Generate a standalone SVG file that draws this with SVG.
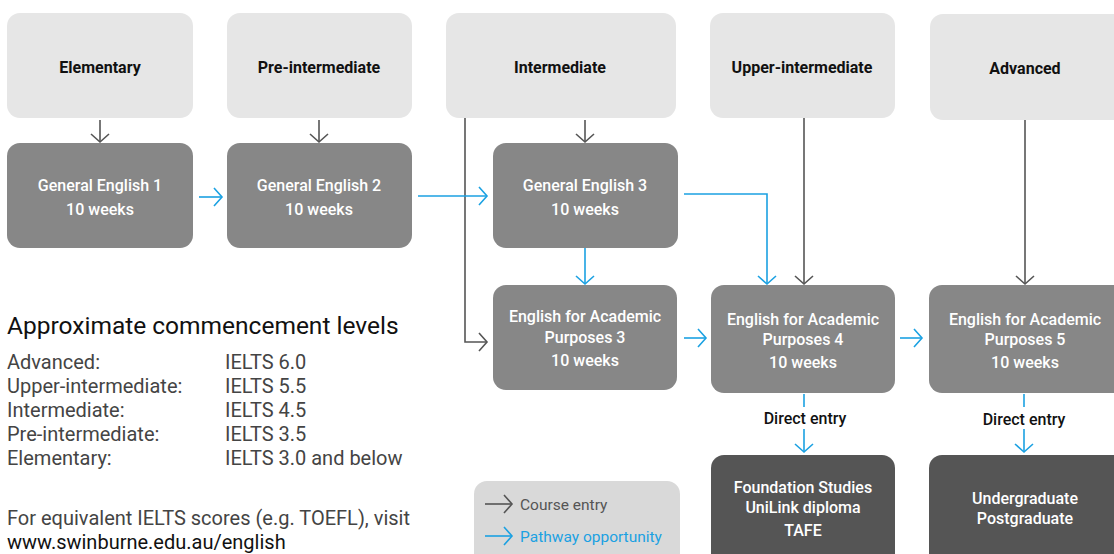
<svg xmlns="http://www.w3.org/2000/svg" width="1114" height="554" viewBox="0 0 1114 554">
<style>
.lvl{fill:#e6e6e6}
.crs{fill:#878787}
.dst{fill:#555555}
.t{font-family:"Roboto","Liberation Sans",sans-serif;font-size:16px;text-anchor:middle;font-weight:500}
.bd{font-weight:700}
.lt{fill:#111}
.wt{fill:#fff}
.g{stroke:#555;stroke-width:1.6;fill:none}
.b{stroke:#1ba1e2;stroke-width:1.6;fill:none}
.body{font-family:"Roboto","Liberation Sans",sans-serif;font-size:20px;fill:#444}
</style>
<defs>
<marker id="ag" markerUnits="userSpaceOnUse" markerWidth="20" markerHeight="20" viewBox="-10 -10 20 20" refX="0" refY="0" orient="auto"><path d="M-8,-9 L0,0 L-8,9" fill="none" stroke="#555" stroke-width="1.6"/></marker>
<marker id="ab" markerUnits="userSpaceOnUse" markerWidth="20" markerHeight="20" viewBox="-10 -10 20 20" refX="0" refY="0" orient="auto"><path d="M-8,-9 L0,0 L-8,9" fill="none" stroke="#1ba1e2" stroke-width="1.6"/></marker>
</defs>
<rect width="1114" height="554" fill="#fff"/>

<g id="elementary"><rect class="lvl" x="7" y="13" width="186" height="105" rx="13"/><text class="t bd lt" x="100" y="73">Elementary</text></g>
<g id="preintermediate"><rect class="lvl" x="227" y="13" width="185" height="105" rx="13"/><text class="t bd lt" x="319" y="73">Pre-intermediate</text></g>
<g id="intermediate"><rect class="lvl" x="446" y="13" width="230" height="105" rx="13"/><text class="t bd lt" x="560" y="73">Intermediate</text></g>
<g id="upperintermediate"><rect class="lvl" x="710" y="13" width="185" height="105" rx="13"/><text class="t bd lt" x="802" y="73">Upper-intermediate</text></g>
<g id="advanced"><rect class="lvl" x="930" y="14" width="200" height="106" rx="13"/><text class="t bd lt" x="1025" y="74">Advanced</text></g>

<g id="ge1"><rect class="crs" x="7" y="143" width="186" height="105" rx="13"/><text class="t wt" x="100" y="191">General English 1</text><text class="t wt" x="100" y="215">10 weeks</text></g>
<g id="ge2"><rect class="crs" x="227" y="143" width="185" height="105" rx="13"/><text class="t wt" x="319" y="191">General English 2</text><text class="t wt" x="319" y="215">10 weeks</text></g>
<g id="ge3"><rect class="crs" x="493" y="143" width="185" height="105" rx="13"/><text class="t wt" x="585" y="191">General English 3</text><text class="t wt" x="585" y="215">10 weeks</text></g>

<g id="eap3"><rect class="crs" x="493" y="285" width="184" height="105" rx="13"/><text class="t wt" x="585" y="322">English for Academic</text><text class="t wt" x="585" y="343">Purposes 3</text><text class="t wt" x="585" y="366">10 weeks</text></g>
<g id="eap4"><rect class="crs" x="711" y="285" width="184" height="108" rx="13"/><text class="t wt" x="803" y="325">English for Academic</text><text class="t wt" x="803" y="345">Purposes 4</text><text class="t wt" x="803" y="368">10 weeks</text></g>
<g id="eap5"><rect class="crs" x="929" y="285" width="200" height="108" rx="13"/><text class="t wt" x="1025" y="325">English for Academic</text><text class="t wt" x="1025" y="345">Purposes 5</text><text class="t wt" x="1025" y="368">10 weeks</text></g>

<g id="foundation"><rect class="dst" x="711" y="455" width="184" height="120" rx="13"/><text class="t wt" x="803" y="493">Foundation Studies</text><text class="t wt" x="803" y="513">UniLink diploma</text><text class="t wt" x="803" y="536">TAFE</text></g>
<g id="undergrad"><rect class="dst" x="929" y="455" width="200" height="120" rx="13"/><text class="t wt" x="1025" y="504">Undergraduate</text><text class="t wt" x="1025" y="524">Postgraduate</text></g>

<g id="connectors">
<path class="g" d="M100,120 V142" marker-end="url(#ag)"/>
<path class="g" d="M319,120 V142" marker-end="url(#ag)"/>
<path class="g" d="M585,120 V142" marker-end="url(#ag)"/>
<path class="g" d="M465,118 V342 H487" marker-end="url(#ag)"/>
<path class="g" d="M804,118 V284" marker-end="url(#ag)"/>
<path class="g" d="M1025,120 V284" marker-end="url(#ag)"/>
<path class="b" d="M199,197 H222" marker-end="url(#ab)"/>
<path class="b" d="M418,196 H487" marker-end="url(#ab)"/>
<path class="b" d="M585,248 V284" marker-end="url(#ab)"/>
<path class="b" d="M684,194 H767 V284" marker-end="url(#ab)"/>
<path class="b" d="M684,338 H706" marker-end="url(#ab)"/>
<path class="b" d="M900,338 H922" marker-end="url(#ab)"/>
<path class="b" d="M804,394 V407"/>
<path class="b" d="M804,429 V452" marker-end="url(#ab)"/>
<path class="b" d="M1024,394 V407"/>
<path class="b" d="M1024,429 V452" marker-end="url(#ab)"/>
<text class="t lt" x="805" y="424">Direct entry</text>
<text class="t lt" x="1024" y="425">Direct entry</text>
</g>

<g id="legend">
<rect x="474" y="481" width="206" height="90" rx="13" fill="#d9d9d9"/>
<path class="g" d="M485,504 H512" marker-end="url(#ag)"/>
<text x="520" y="510" font-family="Roboto,'Liberation Sans',sans-serif" font-size="15.5" fill="#555">Course entry</text>
<path class="b" d="M485,536 H512" marker-end="url(#ab)"/>
<text x="520" y="542" font-family="Roboto,'Liberation Sans',sans-serif" font-size="15.5" fill="#1ba1e2">Pathway opportunity</text>
</g>

<g id="info">
<text x="7" y="334" font-family="Roboto,'Liberation Sans',sans-serif" font-size="24.5" fill="#111">Approximate commencement levels</text>
<text class="body" x="7" y="369">Advanced:</text><text class="body" x="225" y="369">IELTS 6.0</text>
<text class="body" x="7" y="393">Upper-intermediate:</text><text class="body" x="225" y="393">IELTS 5.5</text>
<text class="body" x="7" y="417">Intermediate:</text><text class="body" x="225" y="417">IELTS 4.5</text>
<text class="body" x="7" y="441">Pre-intermediate:</text><text class="body" x="225" y="441">IELTS 3.5</text>
<text class="body" x="7" y="465">Elementary:</text><text class="body" x="225" y="465">IELTS 3.0 and below</text>
<text class="body" x="7" y="525">For equivalent IELTS scores (e.g. TOEFL), visit</text>
<text class="body" x="7" y="549" style="fill:#111">www.swinburne.edu.au/english</text>
</g>
</svg>
